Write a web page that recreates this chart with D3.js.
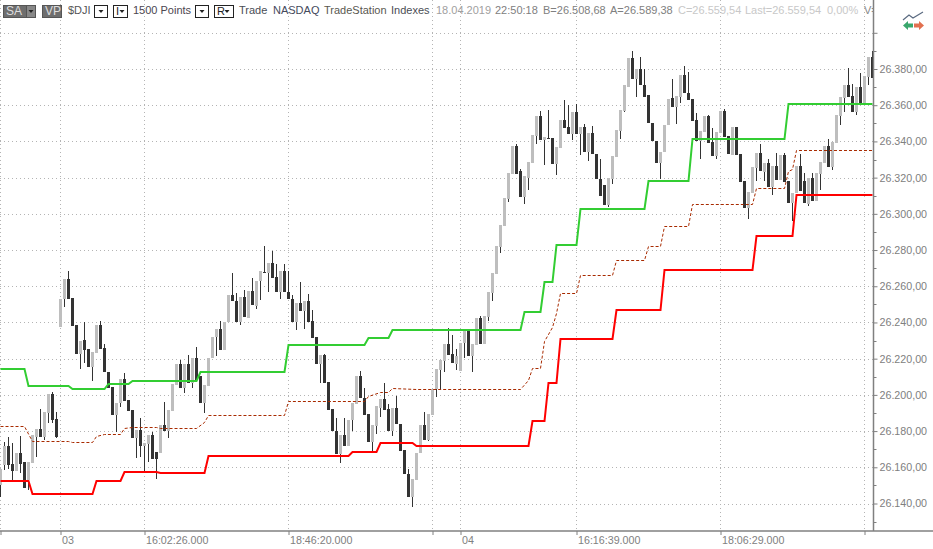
<!DOCTYPE html>
<html>
<head>
<meta charset="utf-8">
<script src="https://cdn.jsdelivr.net/npm/d3@7"></script>
<style>
  html, body { margin: 0; padding: 0; background: #fff; overflow: hidden; }
  text { font-family: "Liberation Sans", Arial, sans-serif; font-size: 11px; }
</style>
</head>
<body>
<svg id="chart" width="933" height="549"></svg>
<script>
// DATA
var opens = [
  26150.2,26161.2,26171.8,26161.8,26157.9,26168.1,26162.7,26153,26162.5,26176.9,
  26181.2,26176.9,26190,26200.3,26186.7,26237.7,26253,26264.1,26253.4,26238.7,
  26222.6,26230.4,26225.4,26215.6,26223.4,26238.7,26225.8,26212.9,26204.4,26189.1,
  26195.4,26208.8,26197.2,26191.7,26176.4,26180.6,26171.9,26172.7,26177.8,26168.6,
  26168.1,26183.4,26180,26191.1,26205.5,26217.1,26204,26217.1,26206.8,26220.2,
  26210.6,26195.5,26205.1,26220.2,26231.8,26236.4,26225,26240.1,26255.2,26251.8,
  26240.2,26254,26242.4,26257.5,26249.2,26262.7,26267.8,26267.1,26273.1,26264.9,
  26257.1,26268.5,26257.1,26253.1,26240,26250.9,26246.1,26252,26240.9,26231.9,
  26216.8,26222.1,26207.2,26192.3,26180.1,26167.6,26177.9,26171.8,26186.2,26195.2,
  26210.3,26198.3,26189.3,26174,26182.7,26193,26197.6,26192,26179.9,26192.6,
  26184.1,26169.4,26156.1,26143.6,26152.8,26168,26183.2,26175,26189.1,26203.5,
  26214,26218.8,26228,26222.5,26217.3,26213.3,26228.4,26235.7,26221.4,26227.4,
  26242.2,26228,26243,26256.2,26266.8,26281.7,26293.3,26308.2,26322,26337.3,
  26323.5,26309.3,26320,26328.1,26343,26353.9,26340.7,26342.1,26341.8,26327.8,
  26336.6,26351.7,26347.8,26344.3,26356.1,26344.3,26347.8,26334,26344.5,26333.3,
  26319.5,26315.8,26304.7,26319.5,26331.4,26345.6,26356.7,26370.3,26386,26374.6,
  26380.1,26371.4,26365.4,26350.4,26340.5,26328,26334,26348.8,26364.2,26359.2,
  26364.7,26376.7,26366.9,26363.4,26351.8,26340.2,26345.4,26354,26339.8,26332.1,
  26344.8,26356.8,26343,26332.5,26348.1,26332.8,26318.1,26303,26311.6,26325.1,
  26333.6,26323.3,26328.2,26314.6,26326.4,26318.7,26332.5,26318.1,26305.8,26311.3,
  26326.4,26318.1,26305.7,26319.8,26307,26322,26328.2,26337.5,26325.7,26339.3,
  26354.2,26364.2,26371.2,26365.1,26356.4,26369.9,26361,26375.5,26386.9
];
var highs = [
  26159,26174.2,26176.9,26173.6,26168.1,26177.3,26162.7,26162.7,26177.8,26181.2,
  26192.2,26190.6,26200.3,26201.6,26190.6,26253,26264.1,26268.5,26253.4,26238.7,
  26229.8,26240.1,26225.4,26223.9,26238.7,26240.9,26228,26212.9,26204.4,26195.4,
  26208.8,26211.9,26197.2,26191.7,26180.6,26187,26173.6,26177.8,26179.7,26168.6,
  26183.4,26195.9,26191.7,26206,26217.1,26219.3,26217.1,26222.1,26220.2,26226.3,
  26210.6,26205.5,26220.2,26231.8,26236.4,26240.9,26240.3,26255.2,26267.2,26256.2,
  26254,26258,26257.5,26264.5,26263,26268.2,26282.4,26273.1,26279.6,26272.2,
  26268.5,26272.2,26268.2,26255.3,26250.9,26262.1,26252,26255.8,26247,26231.9,
  26222.1,26222.7,26207.2,26192.3,26187.5,26177.9,26187.5,26186.2,26195.6,26210.5,
  26213,26204,26189.3,26183.2,26193.7,26197.6,26206.8,26195.2,26192.6,26199.3,
  26184.1,26169.4,26159.3,26153.4,26168.1,26183.2,26190.4,26189.7,26203.5,26214.2,
  26219.1,26228,26237.2,26232.9,26225.6,26228.7,26235.7,26236.6,26228,26242.2,
  26243.5,26243.5,26256.6,26267.1,26282,26293.7,26308.6,26322.4,26337.3,26338.4,
  26325,26320.7,26328.5,26343.4,26353.9,26356.7,26342.5,26357.2,26341.8,26337,
  26351.7,26362.8,26360,26356.1,26360.6,26347.8,26349.5,26344.5,26348.4,26333.3,
  26330.5,26315.8,26319.8,26331.8,26346.2,26357.2,26370.9,26386,26389.7,26380.1,
  26386.9,26380.1,26365.4,26350.4,26340.5,26334.4,26349.3,26363.5,26374.5,26365.1,
  26376.7,26381.7,26378.5,26363.4,26355.5,26345.7,26354,26354.6,26347.2,26345.4,
  26356.8,26357.9,26343,26348.1,26348.1,26332.8,26318.1,26312.2,26325.7,26333.6,
  26338.6,26328.2,26330.3,26326.4,26333.8,26332.5,26333.4,26318.1,26311.6,26326.4,
  26333,26322.3,26319.8,26322.3,26322.3,26328.6,26337.5,26341.1,26339.8,26354.6,
  26364.4,26371.2,26380.4,26371.7,26369.9,26377.6,26376.2,26386.9,26390.2
];
var lows = [
  26143.7,26158.5,26159,26153,26157.9,26156.7,26148.7,26147.4,26162.5,26165.9,
  26176.9,26175.1,26184.7,26184.7,26176,26237.7,26248.8,26253,26238.3,26222.6,
  26214.5,26217.5,26215.6,26207.9,26223.4,26225.6,26212.9,26203.6,26189.1,26179.7,
  26193.5,26196.6,26191.3,26176.4,26165.3,26165.5,26158.1,26163.1,26164.6,26153.3,
  26168.1,26180,26176.4,26191.1,26205.5,26204,26201.2,26206.8,26204,26208.3,
  26195.5,26190.2,26205.1,26220.2,26221.5,26225,26225,26240.1,26251.6,26240.3,
  26238.7,26242.8,26242.4,26249.4,26247.5,26252.5,26267.1,26257.1,26264.3,26257.1,
  26253.1,26257.1,26252.7,26240,26235.6,26246.1,26236.5,26240.5,26231.5,26216.8,
  26206.8,26206.8,26191.9,26179.8,26167.6,26162.6,26172,26171.8,26180.3,26195.2,
  26198,26188.8,26174,26168.5,26178.3,26188,26191.5,26179.9,26177.3,26183.8,
  26169,26156.1,26143.6,26138.1,26152.8,26168,26175,26174.6,26189.1,26198.9,
  26203.5,26212.7,26221.9,26217.7,26213.6,26213.3,26220.6,26221.4,26212.7,26227.4,
  26228,26228,26240.8,26251.8,26266.8,26278.4,26293.3,26306.6,26322,26322.2,
  26309.3,26305.3,26313,26328.1,26338.4,26340.7,26326.8,26341.2,26327.8,26321.3,
  26336.6,26347.3,26344.3,26340.7,26344.3,26332.4,26334.2,26329.2,26332.9,26319.1,
  26309.9,26304.7,26303.8,26316.3,26331.4,26341.6,26356,26370.3,26374.6,26364.8,
  26371.4,26364.8,26350,26340.1,26328,26319.3,26334,26348.8,26359.2,26349.6,
  26361,26366.6,26362.9,26351.5,26340.4,26330.4,26345.4,26339.3,26332.1,26330.1,
  26344.8,26342.6,26332.8,26332.5,26332.5,26317.7,26303,26296.9,26311.6,26318.3,
  26323.6,26318.3,26314.6,26310.4,26318.7,26318.7,26317.7,26306.1,26296.2,26311.3,
  26312.6,26306.1,26304.5,26307,26307,26313.1,26328.2,26326,26324.2,26339.3,
  26349.1,26356.4,26364.7,26356.4,26354.6,26361.4,26361,26371.4,26374.9
];
var closes = [
  26159,26171.8,26161.2,26158.1,26168.1,26161.8,26148.7,26162.7,26177.8,26181.2,
  26176.9,26190.6,26200.3,26186.1,26176.9,26253,26264.1,26253,26238.3,26222.6,
  26229.8,26225,26215.6,26223.9,26238.7,26225.6,26212.9,26203.6,26189.1,26195.4,
  26208.8,26196.6,26191.3,26176.4,26180.6,26171.9,26173.6,26177.8,26164.6,26164.6,
  26183.4,26180,26191.7,26206,26217.1,26204,26217.1,26206.8,26220.2,26208.3,
  26195.5,26205.5,26220.2,26231.8,26236.4,26225,26240.3,26255.2,26251.6,26240.3,
  26254,26242.8,26257.5,26249.4,26263,26268.2,26267.1,26273.1,26264.3,26257.1,
  26268.5,26257.1,26252.7,26240,26250.9,26246.1,26252,26240.5,26231.5,26216.8,
  26222.1,26206.8,26191.9,26179.8,26167.6,26177.9,26172,26186.2,26195.6,26210.5,
  26198,26188.8,26174,26183.2,26193.7,26197.6,26191.5,26179.9,26192.6,26183.8,
  26169,26156.1,26143.6,26153.4,26168.1,26183.2,26175,26189.7,26203.5,26214.2,
  26219.1,26228,26221.9,26217.7,26221.4,26228.7,26235.7,26221.4,26228,26242.2,
  26228,26243.5,26256.6,26267.1,26282,26293.7,26308.6,26322.4,26337.3,26322.2,
  26309.3,26320.7,26328.5,26343.4,26353.9,26340.7,26342.5,26341.2,26327.8,26337,
  26351.7,26347.3,26344.3,26356.1,26344.3,26347.8,26334.2,26344.5,26332.9,26319.1,
  26309.9,26304.7,26319.8,26331.8,26346.2,26357.2,26370.9,26386,26374.6,26380.1,
  26371.4,26364.8,26350,26340.1,26328,26334.4,26349.3,26363.5,26359.2,26365.1,
  26376.7,26366.6,26362.9,26351.5,26340.4,26345.7,26354,26339.3,26332.1,26345.4,
  26356.8,26342.6,26332.8,26348.1,26332.5,26317.7,26303,26312.2,26325.7,26333.6,
  26323.6,26328.2,26314.6,26326.4,26318.7,26332.5,26317.7,26306.1,26311.6,26326.4,
  26312.6,26306.1,26319.8,26307,26322.3,26328.6,26337.5,26326,26339.8,26354.6,
  26364.4,26371.2,26364.7,26356.4,26369.9,26361.4,26376.2,26386.9,26374.9
];

// step lines: bar index of every corner and the level there
var greenBars = [0,6,7,17,18,26,27,32,33,49,50,71,72,91,92,97,98,130,131,135,136,138,139,144,145,161,162,172,173,196,197,218];
var greenLevels = [26214.1,26214.1,26204.7,26204.7,26203.1,26203.1,26205.9,26205.9,26207.5,26207.5,26212.4,26212.4,26227.4,26227.4,26231.3,26231.3,26235.7,26235.7,26245.6,26245.6,26262.2,26262.2,26282.7,26282.7,26302.5,26302.5,26318,26318,26341.6,26341.6,26360.6,26360.6];
var redBars = [0,7,8,23,24,30,31,39,40,51,52,87,88,94,95,103,104,132,133,136,137,139,140,153,154,165,166,188,189,198,199,218];
var redLevels = [26152.3,26152.3,26145.1,26145.1,26152.3,26152.3,26157.2,26157.2,26156.7,26156.7,26166.1,26166.1,26168.3,26168.3,26173.3,26173.3,26171.6,26171.6,26185.4,26185.4,26206.4,26206.4,26230.7,26230.7,26247.1,26247.1,26269.2,26269.2,26287.6,26287.6,26310.3,26310.3];
var dashBars = [0,6,8,17,18,23,24,26,30,31,33,39,40,49,51,52,71,72,91,92,95,97,98,104,130,132,133,135,136,138,139,140,144,145,153,154,161,162,165,166,172,173,188,189,196,197,198,199,218];
var dashLevels = [26182.9,26182.9,26174.7,26174.7,26173.8,26173.8,26177.5,26178.4,26178.4,26181.5,26182.5,26182.5,26181.9,26181.9,26184.9,26188.7,26188.7,26196.7,26196.7,26199.6,26201.4,26201.4,26203.9,26203.3,26203.3,26208.3,26214.7,26214.7,26230,26237.3,26245,26256.4,26256.4,26266.3,26266.3,26274.6,26274.6,26282.3,26282.3,26293.4,26293.4,26305.5,26305.5,26314.4,26314.4,26323.9,26325,26335.4,26335.4];

// axes
var priceTicks = [26140,26160,26180,26200,26220,26240,26260,26280,26300,26320,26340,26360,26380,26400];
var priceMinorTicks = [26130,26150,26170,26190,26210,26230,26250,26270,26290,26310,26330,26350,26370,26390];
var priceLabels = ['26.140,00','26.160,00','26.180,00','26.200,00','26.220,00','26.240,00','26.260,00','26.280,00','26.300,00','26.320,00','26.340,00','26.360,00','26.380,00',''];
var timeTicks = [0,15,36,72,108,115,144,180,216];
var timeLabels = ['','03','16:02:26.000','18:46:20.000','','04','16:16:39.000','18:06:29.000',''];

// header strip
var headerTexts = ['$DJI','1500 Points','Trade','NASDAQ','TradeStation','Indexes','18.04.2019','22:50:18','B=26.508,68','A=26.589,38','C=26.559,54','Last=26.559,54','0,00%','V='];
var headerX = [68,133,239,273,324,391,436,495,543,610,678,745,827,864];
var headerColors = ['#555','#4c4650','#4a4d55','#454a5c','#5a5850','#4a4d55','#a0a0a0','#808080','#808080','#808080','#c8c8c8','#c8c8c8','#c8c8c8','#888'];

var width = 933, height = 549;
var plotRight = 873.5, plotBottom = 531;

var x = d3.scaleLinear().domain( [0, 218] ).range( [0.5, 872.5] );
var y = d3.scaleLinear().domain( [26140, 26380] ).range( [503.5, 69] );

var svg = d3.select( '#chart' );

svg.append( 'clipPath' ).attr( 'id', 'plotClip' )
  .append( 'rect' ).attr( 'x', 0 ).attr( 'y', 0 ).attr( 'width', plotRight ).attr( 'height', plotBottom );

// Grid
var grid = svg.append( 'g' ).attr( 'stroke', '#b4b4b4' ).attr( 'stroke-dasharray', '1,3' ).attr( 'shape-rendering', 'crispEdges' );
grid.selectAll( '.h' ).data( priceTicks ).enter().append( 'line' )
  .attr( 'x1', 0 ).attr( 'x2', plotRight )
  .attr( 'y1', function( d ) { return Math.round( y( d ) ) + 0.5; } )
  .attr( 'y2', function( d ) { return Math.round( y( d ) ) + 0.5; } );
grid.selectAll( '.v' ).data( timeTicks ).enter().append( 'line' )
  .attr( 'y1', 0 ).attr( 'y2', plotBottom )
  .attr( 'x1', function( d ) { return x( d ); } )
  .attr( 'x2', function( d ) { return x( d ); } );

var plot = svg.append( 'g' ).attr( 'clip-path', 'url(#plotClip)' );

// Candles
var bars = plot.append( 'g' ).attr( 'shape-rendering', 'crispEdges' );
bars.selectAll( '.wick' ).data( opens ).enter().append( 'line' )
  .attr( 'stroke', '#333' )
  .attr( 'x1', function( d, i ) { return x( i ); } )
  .attr( 'x2', function( d, i ) { return x( i ); } )
  .attr( 'y1', function( d, i ) { return y( highs[i] ); } )
  .attr( 'y2', function( d, i ) { return y( lows[i] ); } );
bars.selectAll( '.body' ).data( opens ).enter().append( 'rect' )
  .attr( 'x', function( d, i ) { return x( i ) - 1.5; } )
  .attr( 'width', 3 )
  .attr( 'y', function( d, i ) { return y( Math.max( d, closes[i] ) ); } )
  .attr( 'height', function( d, i ) { return Math.max( 1, y( Math.min( d, closes[i] ) ) - y( Math.max( d, closes[i] ) ) ); } )
  .attr( 'fill', function( d, i ) { return closes[i] >= d ? '#bebebe' : '#333'; } );

// Step lines, y snapped to whole pixels so flats stay sharp and slopes keep their weight
function drawStep( barList, levelList, color, lineWidth, dash ) {
  var nudge = lineWidth % 2 ? 0.5 : 0;
  var line = d3.line()
    .x( function( d ) { return x( d ); } )
    .y( function( d, i ) { return Math.round( y( levelList[i] ) ) + nudge; } );
  plot.append( 'path' )
    .attr( 'd', line( barList ) )
    .attr( 'fill', 'none' )
    .attr( 'stroke', color )
    .attr( 'stroke-width', lineWidth )
    .attr( 'stroke-dasharray', dash );
}
drawStep( dashBars, dashLevels, '#a82a00', 1, '3,2' );
drawStep( greenBars, greenLevels, '#32cd32', 2, null );
drawStep( redBars, redLevels, '#ff0000', 2, null );

// Price axis
var axisColor = '#808080', labelColor = '#808080';
var yAxis = svg.append( 'g' )
  .attr( 'transform', 'translate(' + plotRight + ',0)' )
  .call( d3.axisRight( y ).tickValues( priceTicks ).tickSize( 4 ).tickPadding( 2 )
    .tickFormat( function( d, i ) { return priceLabels[i]; } ) );
yAxis.select( '.domain' ).attr( 'd', 'M0,0V' + plotBottom ).attr( 'stroke', axisColor ).attr( 'stroke-width', 1.5 );
yAxis.selectAll( 'line' ).attr( 'stroke', axisColor );
yAxis.selectAll( 'text' ).attr( 'fill', labelColor ).style( 'font-size', '10.7px' );
yAxis.selectAll( '.minor' ).data( priceMinorTicks ).enter().append( 'line' )
  .attr( 'class', 'minor' ).attr( 'stroke', axisColor )
  .attr( 'x2', 3 )
  .attr( 'y1', function( d ) { return Math.round( y( d ) ) + 0.5; } )
  .attr( 'y2', function( d ) { return Math.round( y( d ) ) + 0.5; } );

// Time axis
var xAxis = svg.append( 'g' )
  .attr( 'transform', 'translate(0,' + plotBottom + ')' )
  .call( d3.axisBottom( x ).tickValues( timeTicks ).tickSize( 4 ).tickPadding( 1 )
    .tickFormat( function( d, i ) { return timeLabels[i]; } ) );
xAxis.select( '.domain' ).attr( 'd', 'M0,0H' + width ).attr( 'stroke', axisColor ).attr( 'stroke-width', 1.5 );
xAxis.selectAll( 'line' ).attr( 'stroke', axisColor );
xAxis.selectAll( 'text' ).attr( 'fill', labelColor ).attr( 'text-anchor', 'start' ).attr( 'dx', 1 ).style( 'font-size', '10.7px' );

// Header
var header = svg.append( 'g' );
header.selectAll( '.h' ).data( headerTexts ).enter().append( 'text' )
  .attr( 'x', function( d, i ) { return headerX[i]; } )
  .attr( 'y', 14 )
  .attr( 'fill', function( d, i ) { return headerColors[i]; } )
  .attr( 'clip-path', 'url(#plotClip)' )
  .text( function( d ) { return d; } );

function button( left, w, label, filled ) {
  header.append( 'rect' ).attr( 'x', left + 0.5 ).attr( 'y', 5.5 ).attr( 'width', w ).attr( 'height', 12 )
    .attr( 'fill', filled ? '#6e6e6e' : '#fff' ).attr( 'stroke', filled ? '#555' : '#222' );
  header.append( 'text' ).attr( 'x', left + 3 ).attr( 'y', 15 )
    .attr( 'fill', filled ? '#ddd' : '#222' ).style( 'font-size', filled ? '12px' : '11px' ).text( label );
}
function arrow( cx ) {
  header.append( 'path' ).attr( 'd', 'M' + ( cx - 2.5 ) + ',10L' + ( cx + 2.5 ) + ',10L' + cx + ',13Z' ).attr( 'fill', '#222' );
}
button( 3, 23, 'SA', true );
header.append( 'rect' ).attr( 'x', 26.5 ).attr( 'y', 5.5 ).attr( 'width', 9 ).attr( 'height', 12 ).attr( 'fill', '#888' ).attr( 'stroke', '#555' );
arrow( 31 );
button( 42, 19, 'VP', true );
button( 94, 13, '', false ); arrow( 101 );
button( 113, 14, 'I', false ); arrow( 122 );
button( 195, 13, '', false ); arrow( 202 );
button( 214, 19, 'R', false ); arrow( 227 );

// Corner icon
var icon = svg.append( 'g' ).attr( 'fill', 'none' );
icon.append( 'path' ).attr( 'd', 'M903,20L909,15L913,18L923,12' ).attr( 'stroke', '#5a6a80' ).attr( 'stroke-width', 1.2 );
icon.append( 'path' ).attr( 'd', 'M903,25.5L908,21V23.5H913V27.5H908V30Z' ).attr( 'fill', '#3aa76d' );
icon.append( 'path' ).attr( 'd', 'M924,25.5L919,21V23.5H914V27.5H919V30Z' ).attr( 'fill', '#e2704f' );
</script>
</body>
</html>
